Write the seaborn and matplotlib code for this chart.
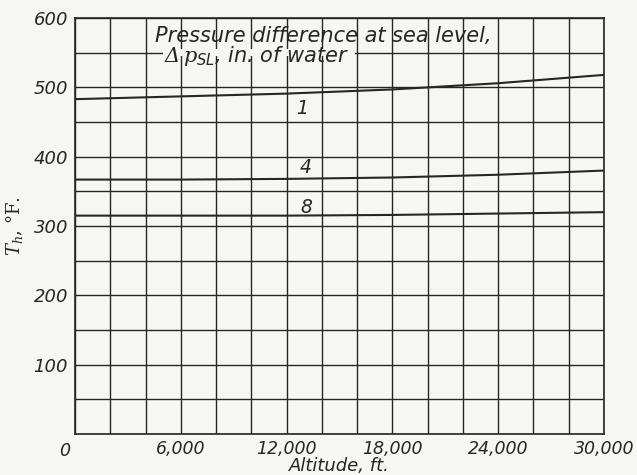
import matplotlib
matplotlib.use("Agg")
import matplotlib.pyplot as plt
import matplotlib.transforms as mtransforms
from matplotlib.patches import Rectangle
import numpy as np
import pandas as pd
import seaborn as sns

# Altitude (ft) and total head temperature T_h (deg F) for three sea-level pressure differences
altitude = [0, 6000, 12000, 18000, 24000, 30000]
th_dp1 = [483, 487, 491, 497, 506, 518]
th_dp4 = [367, 367, 368, 370, 374, 380]
th_dp8 = [315, 315, 315, 316, 318, 320]
curve_labels = ["1", "4", "8"]
label_pos_alt = [12900, 13100, 13100]
label_pos_val = [470, 385, 327]

x_tick_values = [0, 6000, 12000, 18000, 24000, 30000]
x_tick_labels = ["0", "6,000", "12,000", "18,000", "24,000", "30,000"]
y_tick_values = [100, 200, 300, 400, 500, 600]
y_tick_labels = ["100", "200", "300", "400", "500", "600"]

BG = "#f6f6f4"
INK = "#262626"
LETTER = "DejaVu Sans"

sns.set_style("white")
plt.rcParams["font.family"] = [LETTER]
plt.rcParams["font.style"] = "italic"
plt.rcParams["mathtext.fontset"] = "dejavuserif"

df = pd.DataFrame({
    "Altitude": altitude * 3,
    "Th": th_dp1 + th_dp4 + th_dp8,
    "dp": ["1"] * len(altitude) + ["4"] * len(altitude) + ["8"] * len(altitude),
})

fig = plt.figure(figsize=(6.37, 4.75), dpi=100, facecolor=BG)
ax = fig.add_axes([0.1177, 0.0863, 0.8304, 0.8757])
ax.set_facecolor(BG)

sns.lineplot(data=df, x="Altitude", y="Th", hue="dp",
             palette={"1": INK, "4": INK, "8": INK},
             legend=False, ax=ax, linewidth=1.5, zorder=3)

ax.set_xlim(0, 30000)
ax.set_ylim(0, 600)

# grid every 2,000 ft and every 50 deg
ax.set_xticks(np.arange(0, 30001, 2000))
ax.set_yticks(np.arange(0, 601, 50))
ax.set_xticklabels([x_tick_labels[x_tick_values.index(v)] if v in x_tick_values else ""
                    for v in np.arange(0, 30001, 2000)])
ax.set_yticklabels([y_tick_labels[y_tick_values.index(v)] if v in y_tick_values else ""
                    for v in np.arange(0, 601, 50)])
ax.grid(True, color=INK, linewidth=1.0, zorder=1)
ax.set_axisbelow(True)
ax.tick_params(axis="y", length=0, labelsize=13, colors=INK, pad=5)
ax.tick_params(axis="x", length=0, labelsize=12.5, colors=INK, pad=4)
for lab in ax.get_xticklabels() + ax.get_yticklabels():
    lab.set_fontstyle("italic")
for sp in ax.spines.values():
    sp.set_color(INK)
    sp.set_linewidth(1.2)

# the shared origin label sits left of the corner
zero_lab = ax.get_xticklabels()[0]
zero_lab.set_transform(zero_lab.get_transform() +
                       mtransforms.ScaledTranslation(-10 / 100, -2 / 100, fig.dpi_scale_trans))

ax.set_xlabel("Altitude, ft.", fontsize=13, fontstyle="italic", color=INK, labelpad=-2)
ax.set_ylabel("$\\mathbf{\\mathit{T}}_{h}$, °F.", fontsize=13, fontstyle="normal",
              family="DejaVu Serif", color=INK, labelpad=6)

# caption over the grid
ax.add_patch(Rectangle((5000, 545), 10900, 10, facecolor=BG, edgecolor="none", zorder=2))
ax.text(4550, 566, "Pressure difference at sea level,", fontsize=15, fontstyle="italic",
        color=INK, va="baseline", ha="left", zorder=4)
ax.text(5050, 536, r"$\Delta\,p_{\mathsf{SL}}$, in. of water", fontsize=15, fontstyle="italic",
        color=INK, va="baseline", ha="left", zorder=4)

for lab, xa, ya in zip(curve_labels, label_pos_alt, label_pos_val):
    ax.text(xa, ya, lab, fontsize=13.5, fontstyle="italic", color=INK,
            ha="center", va="center", zorder=4)

fig.savefig("out.png", dpi=100, facecolor=BG)
